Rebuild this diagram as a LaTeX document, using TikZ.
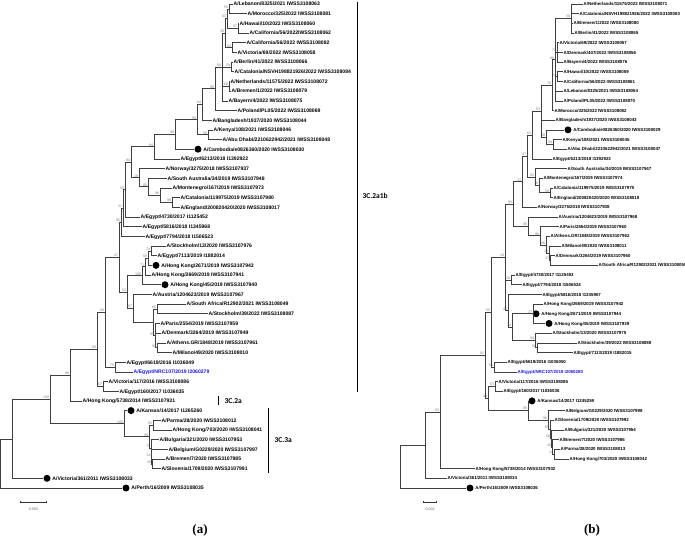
\documentclass[tikz,border=0pt]{standalone}
\usepackage{fontspec}
\setsansfont{Liberation Sans}
\newfontfamily\cladefont{Carlito}
\newfontfamily\panelfont{Liberation Serif}
\usetikzlibrary{positioning, arrows.meta}

\definecolor{nrcblue}{RGB}{25,25,235}
\newcommand\tipfontA{\sffamily\bfseries\fontsize{5.1}{6}\selectfont}
\newcommand\tipfontB{\sffamily\bfseries\fontsize{4.4}{5}\selectfont}

\begin{document}
\begin{tikzpicture}[
    x=1pt, y=-1pt,
    branch/.style={draw=black!75, line width=0.55pt},
    leafa/.style={anchor=west, inner sep=0.5pt, font=\tipfontA, text height=3.7pt, text depth=0pt},
    leafb/.style={anchor=west, inner sep=0.5pt, font=\tipfontB, text height=3.2pt, text depth=0pt},
    tipdot/.style={circle, fill=black, inner sep=0pt, minimum size=7pt},
    boot/.style={anchor=south east, inner sep=0.3pt, xshift=-0.3pt,
                 font=\sffamily\fontsize{3.6}{4}\selectfont, text=black!50},
    cladebar/.style={draw=black, line width=0.6pt},
    cladelbl/.style={anchor=west, font=\cladefont\bfseries\fontsize{7.5}{8}\selectfont},
    scalebar/.style={draw=black!80, line width=0.6pt, {Bar[width=2.5pt]}-{Bar[width=2.5pt]}},
    panel/.style={font=\panelfont\bfseries\fontsize{13}{15}\selectfont}
]
\useasboundingbox (0,0) rectangle (685,541);

\def\rowY{4}
\def\rowH{9.68}

% ================= (a) =================
% tips
\foreach \n/\x/\t in {%
  1/233/{A/Lebanon/8325/2021 IWSS3108063},
  2/247/{A/Morocco/325/2022 IWSS3108081},
  3/239/{A/Hawaii/10/2022 IWSS3108060},
  4/249/{A/California/56/2022IWSS3108062},
  5/246/{A/California/56/2022 IWSS3108082},
  6/237/{A/Victoria/69/2022 IWSS3108058},
  7/233/{A/Berlin/41/2022 IWSS3108066},
  8/234/{A/Catalonia/NSVH198821926/2022 IWSS3108084},
  9/230/{A/Netherlands/11575/2022 IWSS3108072},
  10/231/{A/Bremen/1/2022 IWSS3108079},
  11/228/{A/Bayern/4/2022 IWSS3108075},
  12/237/{A/Poland/PL05/2022 IWSS3108069},
  13/212/{A/Bangladesh/1937/2020 IWSS3108044},
  14/213/{A/Kenya/108/2021 IWSS3108046},
  15/222/{A/Abu Dhabi/2210622942/2021 IWSS3108048},
  17/180/{A/Egypt/6213/2018 I1392922},
  18/165/{A/Norway/3275/2018 IWSS3107937},
  19/167/{A/South Australia/34/2019 IWSS3107948},
  20/172/{A/Montenegro/167/2019 IWSS3107973},
  21/180/{A/Catalonia/119975/2019 IWSS3107980},
  22/180/{A/England/200820420/2020 IWSS3108017},
  23/140/{A/Egypt/4730/2017 I1125452},
  24/142/{A/Egypt/5816/2018 I1345968},
  25/145/{A/Egypt/7794/2018 I1506523},
  26/166/{A/Stockholm/13/2020 IWSS3107976},
  27/157/{A/Egypt/7113/2019 I1882014},
  29/151/{A/Hong Kong/2669/2019 IWSS3107941},
  31/152/{A/Austria/1204623/2019 IWSS3107967},
  32/186/{A/South Africa/R12902/2021 IWSS3108049},
  33/208/{A/Stockholm/39/2022 IWSS3108087},
  34/160/{A/Paris/2554/2019 IWSS3107959},
  35/161/{A/Denmark/3264/2019 IWSS3107949},
  36/166/{A/Athens.GR/1848/2019 IWSS3107961},
  37/172/{A/Milano/49/2020 IWSS3108010},
  38/126/{A/Egypt/6619/2016 I1036049},
  40/108/{A/Victoria/117/2016 IWSS3108086},
  41/119/{A/Egypt/160/2017 I1036035},
  42/82/{A/Hong Kong/5738/2014 IWSS3107931},
  44/161/{A/Parma/28/2020 IWSS3108012},
  45/172/{A/Hong Kong/703/2020 IWSS3108041},
  46/159/{A/Bulgaria/321/2020 IWSS3107953},
  47/168/{A/Belgium/G0229/2020 IWSS3107997},
  48/165/{A/Bremen/7/2020 IWSS3107985},
  49/161/{A/Slovenia/1709/2020 IWSS3107991}}
  \node[leafa] (a\n) at (\x,{\rowY+(\n-1)*\rowH}) {\t};

\node[leafa, text=nrcblue] (a39) at (133,{\rowY+38*\rowH}) {A/Egypt/NRC107/2019 I2060279};

% tips with a dot
\foreach \n/\x/\t in {%
  16/198/{A/Cambodia/e0826360/2020 IWSS3108030},
  28/156/{A/Hong Kong/2671/2019 IWSS3107943},
  30/165/{A/Hong Kong/45/2019 IWSS3107940},
  43/131/{A/Kansas/14/2017 I1265260},
  50/47/{A/Victoria/361/2011 IWSS3108033},
  51/126/{A/Perth/16/2009 IWSS3108035}} {
    \node[tipdot] (a\n) at (\x,{\rowY+(\n-1)*\rowH}) {};
    \node[leafa, right=1pt of a\n] (a\n t) {\t};
}

% inner nodes: id/x/row/bootstrap
\foreach \n/\x/\r/\b in {%
  1/229/1.5/55, 2/238/3.5/97, 3/227/2.5/63, 4/232/5.5/64, 5/225/4/30,
  6/231/7.5/29, 7/229/9.5/60, 8/222/7.5/56, 9/215/9.75/99, 10/202/11.375/84,
  11/208/14.5/58, 12/197/12.94/99, 13/175/14.47/99, 14/154/15.73/94,
  15/172/21.5/99, 16/160/20.75/96, 17/148/19.875/80, 18/139/18.94/18,
  19/131/17.34/84, 20/125/20.17/58, 21/123/22.08/31, 22/121/23.54/95,
  23/151/26.5/74, 24/148/27.25/59, 25/145/28.13/71, 26/142/29.06/100,
  27/157/32.5/68, 28/157/36.5/93, 29/155/35.25/99, 30/153/33.88/,
  31/133/32.44/67, 32/127/30.75/52, 33/119/27.15/47, 34/115/38.5/75,
  35/105/32.83/58, 36/103/40.5/67, 37/97/36.66/99, 38/70/39.33/96,
  39/153/44.5/85, 40/152/48.5/29, 41/151.5/47.75/34, 42/151/46.88/79,
  43/149/45.69/99, 44/124/44.34/100, 45/50/41.84/100, 46/12/45.92/,
  47/0.5/48.46/} {
    \coordinate (aN\n) at (\x,{\rowY+(\r-1)*\rowH});
    \ifx\b\empty\else
      \node[boot] (aB\n) at (aN\n) {\b};
    \fi
}

\foreach \p/\c in {%
  aN1/a1, aN1/a2, aN2/a3, aN2/a4, aN3/aN1, aN3/aN2, aN4/a5, aN4/a6,
  aN5/aN3, aN5/aN4, aN6/a7, aN6/a8, aN7/a9, aN7/a10, aN8/aN5, aN8/aN6,
  aN8/aN7, aN8/a11, aN9/aN8, aN9/a12, aN10/aN9, aN10/a13, aN11/a14,
  aN11/a15, aN12/aN10, aN12/aN11, aN13/aN12, aN13/a16, aN14/aN13,
  aN14/a17, aN15/a21, aN15/a22, aN16/a20, aN16/aN15, aN17/a19, aN17/aN16,
  aN18/a18, aN18/aN17, aN19/aN14, aN19/aN18, aN20/aN19, aN20/a23,
  aN21/aN20, aN21/a24, aN22/aN21, aN22/a25, aN23/a26, aN23/a27,
  aN24/aN23, aN24/a28, aN25/aN24, aN25/a29, aN26/aN25, aN26/a30,
  aN27/a32, aN27/a33, aN28/a36, aN28/a37, aN29/a34, aN29/a35, aN29/aN28,
  aN30/aN27, aN30/aN29, aN31/a31, aN31/aN30, aN32/aN26, aN32/aN31,
  aN33/aN22, aN33/aN32, aN34/a38, aN34/a39, aN35/aN33, aN35/aN34,
  aN36/a40, aN36/a41, aN37/aN35, aN37/aN36, aN38/aN37, aN38/a42,
  aN39/a44, aN39/a45, aN40/a48, aN40/a49, aN41/a47, aN41/aN40,
  aN42/a46, aN42/aN41, aN43/aN39, aN43/aN42, aN44/a43, aN44/aN43,
  aN45/aN38, aN45/aN44, aN46/aN45, aN46/a50, aN47/aN46, aN47/a51}
  \draw[branch] (\p) |- (\c);

% clade marks
\draw[cladebar] (357,2) -- (357,392);
\node[cladelbl] (c2a1b) at (359,196) {3C.2a1b};
\draw[cladebar] (218,396) -- (218,405);
\node[cladelbl] (c2a) at (221,401) {3C.2a};
\draw[cladebar] (268,408) -- (268,473);
\node[cladelbl] (c3a) at (271,440) {3C.3a};

% scale
\draw[scalebar] (20,502) -- (47,502);
\node[font=\sffamily\fontsize{3.6}{4}\selectfont, text=black!60, anchor=north] (sa) at (33.5,504) {0.005};
\node[panel] (pa) at (200,530) {(a)};

% ================= (b) =================
\foreach \n/\x/\t in {%
  1/583/{A/Netherlands/11575/2022 IWSS3108071},
  2/579/{A/Catalonia/NSVH198821926/2022 IWSS3108083},
  3/573/{A/Bremen/1/2022 IWSS3108080},
  4/574/{A/Berlin/41/2022 IWSS3108065},
  5/559/{A/Victoria/69/2022 IWSS3108057},
  6/563/{A/Denmark/407/2022 IWSS3108056},
  7/563/{A/Bayern/4/2022 IWSS3108076},
  8/563/{A/Hawaii/10/2022 IWSS3108059},
  9/563/{A/California/56/2022 IWSS3108061},
  10/563/{A/Lebanon/8325/2021 IWSS3108064},
  11/563/{A/Poland/PL05/2022 IWSS3108070},
  12/554/{A/Morocco/325/2022 IWSS3108082},
  13/555/{A/Bangladesh/1937/2020 IWSS3108043},
  15/562/{A/Kenya/108/2021 IWSS3108045},
  16/567/{A/Abu Dhabi/2210622942/2021 IWSS3108047},
  17/552/{A/Egypt/6213/2018 I1392923},
  18/567/{A/South Australia/34/2019 IWSS3107947},
  19/543/{A/Montenegro/167/2019 IWSS3107974},
  20/553/{A/Catalonia/119975/2019 IWSS3107979},
  21/553/{A/England/200820420/2020 IWSS3108018},
  22/537/{A/Norway/3275/2018 IWSS3107938},
  23/558/{A/Austria/1204623/2019 IWSS3107968},
  24/559/{A/Paris/2554/2019 IWSS3107960},
  25/550/{A/Athens.GR/1848/2019 IWSS3107962},
  26/561/{A/Milano/49/2020 IWSS3108011},
  27/555/{A/Denmark/3264/2019 IWSS3107950},
  28/598/{A/South Africa/R12902/2021 IWSS3108050},
  29/515/{A/Egypt/4730/2017 I1125453},
  30/522/{A/Egypt/7794/2018 I1506524},
  31/542/{A/Egypt/5816/2018 I1345967},
  32/543/{A/Hong Kong/2669/2019 IWSS3107942},
  35/552/{A/Stockholm/13/2020 IWSS3107975},
  36/577/{A/Stockholm/39/2022 IWSS3108088},
  37/573/{A/Egypt/7113/2019 I1882015},
  38/507/{A/Egypt/6619/2016 I1036050},
  40/498/{A/Victoria/117/2016 IWSS3108085},
  41/503/{A/Egypt/160/2017 I1036036},
  43/565/{A/Belgium/G0229/2020 IWSS3107998},
  44/554/{A/Slovenia/1709/2020 IWSS3107992},
  45/564/{A/Bulgaria/321/2020 IWSS3107954},
  46/559/{A/Bremen/7/2020 IWSS3107986},
  47/560/{A/Parma/28/2020 IWSS3108013},
  48/569/{A/Hong Kong/703/2020 IWSS3108042},
  49/475/{A/Hong Kong/5738/2014 IWSS3107932},
  50/447/{A/Victoria/361/2011 IWSS3108034}}
  \node[leafb] (b\n) at (\x,{\rowY+(\n-1)*\rowH}) {\t};

\node[leafb, text=nrcblue] (b39) at (517,{\rowY+38*\rowH}) {A/Egypt/NRC107/2019 I2060280};

\foreach \n/\x/\t in {%
  14/568/{A/Cambodia/e0826360/2020 IWSS3108029},
  33/536/{A/Hong Kong/2671/2019 IWSS3107944},
  34/549/{A/Hong Kong/45/2019 IWSS3107939},
  42/532/{A/Kansas/14/2017 I1245259},
  51/470/{A/Perth/16/2009 IWSS3108036}} {
    \node[tipdot] (b\n) at (\x,{\rowY+(\n-1)*\rowH}) {};
    \node[leafb, right=1pt of b\n] (b\n t) {\t};
}

\foreach \n/\x/\r/\b in {%
  1/571/2.5/58, 2/557/6/72, 3/557/8.5/64, 4/555/6.75/86, 5/552/9.375/78,
  6/553/15.5/94, 7/546/14.75/40, 8/541/12.06/53, 9/532/14.53/63,
  10/550/20.5/50, 11/539/19.75/76, 12/535/18.875/81, 13/527/16.70/47,
  14/522/19.35/21, 15/550/27.5/37, 16/549/26.75/14, 17/546/25.875/96,
  18/540/24.94/99, 19/528/23.97/88, 20/513/21.66/95, 21/511/29.5/19,
  22/533/33/37, 23/537/36.5/58, 24/535/35.75/99, 25/512/34.375/74,
  26/508/32.69/42, 27/505/27.17/18, 28/494/38.5/51, 29/491/32.84/55,
  30/495/40.5/53, 31/554/47.5/14, 32/552/46.75/40, 33/551/45.875/50,
  34/550/44.94/65, 35/548/43.97/96, 36/528/42.98/99, 37/488/41.74/49,
  38/485/37.29/91, 39/440/43.15/93, 40/425/46.57/, 41/400/48.79/} {
    \coordinate (bN\n) at (\x,{\rowY+(\r-1)*\rowH});
    \ifx\b\empty\else
      \node[boot] (bB\n) at (bN\n) {\b};
    \fi
}

\foreach \p/\c in {%
  bN1/b1, bN1/b2, bN1/b3, bN1/b4, bN2/b5, bN2/b6, bN2/b7, bN3/b8, bN3/b9,
  bN4/bN1, bN4/bN2, bN4/bN3, bN4/b10, bN4/b11, bN5/bN4, bN5/b12,
  bN6/b15, bN6/b16, bN7/b14, bN7/bN6, bN8/bN5, bN8/b13, bN8/bN7,
  bN9/bN8, bN9/b17, bN10/b20, bN10/b21, bN11/b19, bN11/bN10, bN12/b18,
  bN12/bN11, bN13/bN9, bN13/bN12, bN14/bN13, bN14/b22, bN15/b27,
  bN15/b28, bN16/b26, bN16/bN15, bN17/b25, bN17/bN16, bN18/b24,
  bN18/bN17, bN19/b23, bN19/bN18, bN20/bN14, bN20/bN19, bN21/b29,
  bN21/b30, bN22/b32, bN22/b33, bN22/b34, bN23/b36, bN23/b37, bN24/b35,
  bN24/bN23, bN25/bN22, bN25/bN24, bN26/b31, bN26/bN25, bN27/bN20,
  bN27/bN21, bN27/bN26, bN28/b38, bN28/b39, bN29/bN27, bN29/bN28,
  bN30/b40, bN30/b41, bN31/b47, bN31/b48, bN32/b46, bN32/bN31,
  bN33/b45, bN33/bN32, bN34/b44, bN34/bN33, bN35/b43, bN35/bN34,
  bN36/b42, bN36/bN35, bN37/bN30, bN37/bN36, bN38/bN29, bN38/bN37,
  bN39/bN38, bN39/b49, bN40/bN39, bN40/b50, bN41/bN40, bN41/b51}
  \draw[branch] (\p) |- (\c);

\draw[scalebar] (423,502) -- (437,502);
\node[font=\sffamily\fontsize{3.6}{4}\selectfont, text=black!60, anchor=north] (sb) at (430,504) {0.002};
\node[panel] (pb) at (592,530) {(b)};

\end{tikzpicture}
\end{document}
